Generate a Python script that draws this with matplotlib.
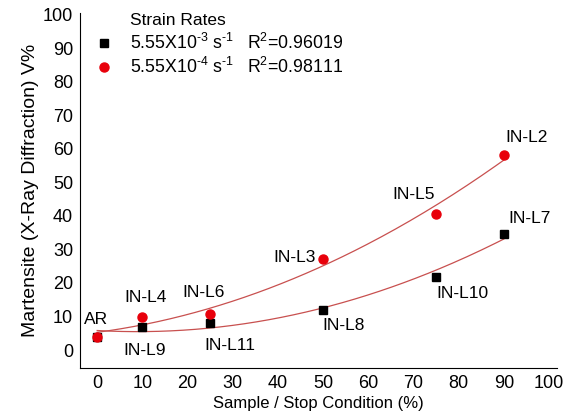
#!/usr/bin/env python3

from matplotlib import pyplot as plt
import numpy as np

# sample / stop condition (%)
x_fast = [0, 10, 25, 50, 75, 90]
y_fast = [4.0, 7.0, 8.2, 11.8, 21.8, 34.6]   # 5.55e-3 1/s
x_slow = [0, 10, 25, 50, 75, 90]
y_slow = [3.9, 10.0, 10.8, 27.0, 40.5, 58.0]  # 5.55e-4 1/s

labels = ["AR", "IN-L4", "IN-L9", "IN-L6", "IN-L11", "IN-L3",
          "IN-L8", "IN-L5", "IN-L10", "IN-L2", "IN-L7"]
label_pos = [(-0.2, 9.2), (10.6, 15.6), (10.6, 0.0), (23.5, 17.3),
             (29.4, 1.3), (43.6, 27.7), (54.5, 7.3), (70.1, 46.4),
             (80.8, 17.0), (95.1, 63.4), (95.8, 39.3)]

plt.rcParams['font.family'] = ['Liberation Sans', 'DejaVu Sans']
plt.rcParams['mathtext.default'] = 'regular'


def main():
    fig = plt.figure(figsize=(5.84, 4.18), dpi=100)
    ax = fig.add_axes([0.137, 0.12, 0.817, 0.85])

    # quadratic trend lines
    xs = np.linspace(0, 90, 200)
    for xd, yd in ((x_fast, y_fast), (x_slow, y_slow)):
        f = np.poly1d(np.polyfit(xd, yd, 2))
        ax.plot(xs, f(xs), color='#c8504f', lw=0.9, zorder=2)

    ax.plot(x_fast, y_fast, 's', color='black', ms=6, zorder=3)
    ax.plot(x_slow, y_slow, 'o', color='#e8000b', ms=6.5, zorder=4)

    for lab, (tx, ty) in zip(labels, label_pos):
        ax.text(tx, ty, lab, ha='center', va='center', fontsize=12.5)

    # legend, drawn by hand (hyphen instead of minus in the exponents)
    fs = 12.8
    h = "\u2010"
    ax.text(7.3, 98.3, "Strain Rates", fontsize=12.5, va='center')
    ax.plot([1.5], [91.6], 's', color='black', ms=5.5, clip_on=False)
    ax.plot([1.5], [84.5], 'o', color='#e8000b', ms=6.5, clip_on=False)
    ax.text(7.3, 91.6, "5.55X10$^{" + h + "3}$ s$^{" + h + "1}$",
            fontsize=fs, va='center')
    ax.text(7.3, 84.5, "5.55X10$^{" + h + "4}$ s$^{" + h + "1}$",
            fontsize=fs, va='center')
    ax.text(33.2, 91.6, "R$^{2}$=0.96019", fontsize=fs, va='center')
    ax.text(33.2, 84.5, "R$^{2}$=0.98111", fontsize=fs, va='center')

    ax.set_xlim(-3.8, 101.8)
    ax.set_ylim(-5.3, 100.6)
    ax.set_xticks(range(0, 101, 10))
    ax.set_yticks(range(0, 101, 10))
    ax.tick_params(length=0, labelsize=13, pad=5)
    for s in ('top', 'right'):
        ax.spines[s].set_visible(False)
    ax.set_xlabel("Sample / Stop Condition (%)", fontsize=12, labelpad=3)
    ax.set_ylabel("Martensite (X-Ray Diffraction) V%", fontsize=14,
                  labelpad=3)

    fig.savefig("out.png", dpi=100)


if __name__ == "__main__":
    main()
